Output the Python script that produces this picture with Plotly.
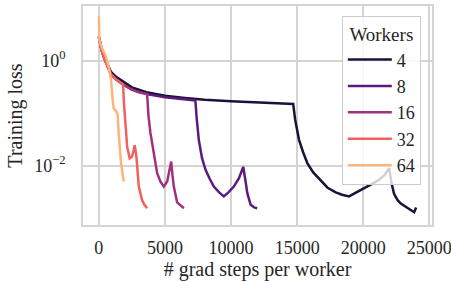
import plotly.graph_objects as go

workers = ["4", "8", "16", "32", "64"]
colors = ["#1c1136", "#5c1a7f", "#a3307e", "#f1605d", "#fdb47a"]

steps_4 = [0, 200, 400, 600, 900, 1300, 1800, 2500, 3600, 5000, 6500, 8000, 10000, 11500, 13000, 14000, 14700,
           14850, 15140, 15450, 15770, 16200, 16780, 17300, 17920, 18400, 18920, 19500, 20060, 20600, 21200,
           21600, 21960, 22150, 22330, 22600, 22840, 23300, 23700, 23850, 24000]
loss_4 = [2.9, 1.7, 1.2, 0.9, 0.62, 0.49, 0.40, 0.31, 0.25, 0.215, 0.195, 0.18, 0.168, 0.162, 0.156, 0.152, 0.150,
          0.075, 0.031, 0.018, 0.0112, 0.0075, 0.0052, 0.0038, 0.0031, 0.0028, 0.0026, 0.0031, 0.0037, 0.0044,
          0.0054, 0.0066, 0.0089, 0.0045, 0.0029, 0.0022, 0.0019, 0.0016, 0.0014, 0.0013, 0.0016]

steps_8 = [0, 200, 400, 600, 900, 1300, 1800, 2500, 3600, 5000, 6200, 7300,
           7400, 7560, 7800, 8070, 8400, 8700, 9100, 9450, 9800, 10210, 10600, 10920, 11100, 11230, 11480, 11750, 11980]
loss_8 = [2.8, 1.6, 1.12, 0.83, 0.56, 0.44, 0.355, 0.28, 0.23, 0.20, 0.185, 0.174,
          0.08, 0.031, 0.014, 0.0083, 0.0055, 0.004, 0.0031, 0.0026, 0.0031, 0.004, 0.0058, 0.0095, 0.005,
          0.003, 0.0018, 0.0016, 0.00155]

steps_16 = [0, 200, 400, 600, 900, 1300, 1800, 2500, 3000, 3650,
            3750, 3900, 4150, 4410, 4650, 4910, 5170, 5320, 5470, 5570, 5670, 5920, 6200, 6430]
loss_16 = [2.8, 1.6, 1.12, 0.83, 0.56, 0.44, 0.355, 0.28, 0.25, 0.23,
           0.09, 0.042, 0.016, 0.0072, 0.005, 0.004, 0.005, 0.0075, 0.012, 0.0065, 0.004, 0.002, 0.0017, 0.00155]

steps_32 = [0, 200, 400, 600, 900, 1300, 1830,
            1900, 2000, 2140, 2330, 2500, 2620, 2710, 2840, 3020, 3270, 3450, 3650]
loss_32 = [2.8, 1.6, 1.12, 0.83, 0.56, 0.44, 0.35,
           0.15, 0.055, 0.023, 0.0138, 0.0148, 0.019, 0.0245, 0.0148, 0.004, 0.0022, 0.0018, 0.00155]

steps_64 = [0, 38, 200, 490, 745, 920, 1045, 1124, 1326, 1425, 1500, 1576, 1680, 1880]
loss_64 = [6.9, 2.48, 1.8, 1.28, 0.77, 0.43, 0.18, 0.123, 0.107, 0.093, 0.042, 0.020, 0.011, 0.005]

xs = [steps_4, steps_8, steps_16, steps_32, steps_64]
ys = [loss_4, loss_8, loss_16, loss_32, loss_64]

FONT = "Liberation Serif"
TXT = "#262626"

fig = go.Figure()
for name, c, x, y in zip(workers, colors, xs, ys):
    fig.add_trace(go.Scatter(x=x, y=y, mode="lines", name=name, legendgroup=name,
                             line=dict(color=c, width=2.5)))

grid = "#d4d4d4"
fig.update_layout(
    width=451, height=282,
    margin=dict(l=83, r=19, t=6, b=57),
    paper_bgcolor="white", plot_bgcolor="white",
    font=dict(family=FONT, size=18, color=TXT),
    legend=dict(
        x=0.968, y=0.956, xanchor="right", yanchor="top",
        bgcolor="rgba(255,255,255,0.8)", bordercolor="#cccccc", borderwidth=1,
        font=dict(family=FONT, size=18, color=TXT),
        title=dict(text="Workers", side="top center", font=dict(family=FONT, size=19, color=TXT)),
        tracegroupgap=0, itemwidth=44,
    ),
    xaxis=dict(
        range=[-1200, 25200], tickvals=[0, 5000, 10000, 15000, 20000, 25000],
        ticktext=["0", "5000", "10000", "15000", "20000", "25000"],
        tickfont=dict(family=FONT, size=18, color=TXT),
        showgrid=True, gridcolor=grid, gridwidth=1.5,
        showline=True, linecolor=grid, linewidth=1.5, mirror=True,
        zeroline=False, ticks="", ticklabelstandoff=6, automargin=False,
        ticklabeloverflow="allow",
        title=dict(text="# grad steps per worker", font=dict(family=FONT, size=20, color=TXT), standoff=2),
    ),
    yaxis=dict(
        type="log", range=[-3.13, 1.04], tickvals=[0.01, 1],
        ticktext=["10<sup>−2</sup>", "10<sup>0</sup>"],
        tickfont=dict(family=FONT, size=18, color=TXT),
        showgrid=True, gridcolor=grid, gridwidth=1.5,
        showline=True, linecolor=grid, linewidth=1.5, mirror=True,
        zeroline=False, ticks="", ticklabelstandoff=12, automargin=False,
        ticklabeloverflow="allow",
        title=dict(text="Training loss", font=dict(family=FONT, size=20, color=TXT), standoff=6),
    ),
)

fig.write_html("out.html", config={"displayModeBar": False},
               post_script="document.body.style.margin='0';document.body.style.overflow='hidden';")
